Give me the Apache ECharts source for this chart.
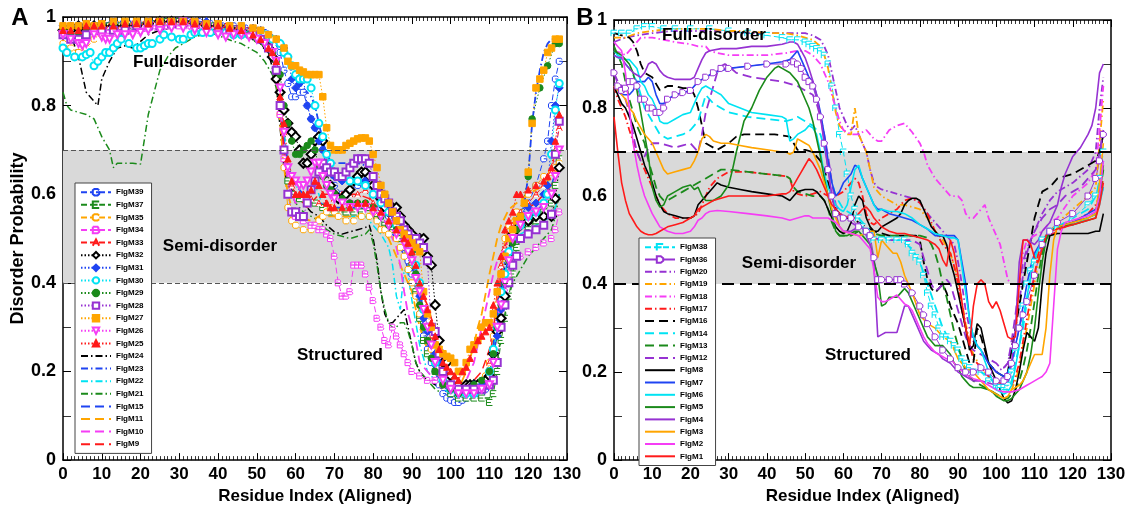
<!DOCTYPE html>
<html>
<head>
<meta charset="utf-8">
<script src="https://cdn.jsdelivr.net/npm/echarts@6/dist/echarts.min.js"></script>
<style>
  html, body { margin: 0; padding: 0; background: #fff; }
  #chart { width: 1131px; height: 510px; }
</style>
</head>
<body>
<div id="chart"></div>
<script>
// ---------- data ----------
const yTickLabels = ['0', '0.2', '0.4', '0.6', '0.8', '1'];
const semiBand = [0.4, 0.7];

// Panel A
const flgM39 = [[0,.97],[2,.96],[4,.97],[6,.98],[8,.98],[10,.985],[12,.98],[14,.98],[16,.985],[18,.98],[20,.98],[23,.985],[26,.99],[29,.99],[32,.99],[35,.99],[38,.985],[41,.98],[44,.98],[47,.975],[50,.97],[52,.965],[54,.95],[56,.92],[57,.88],[58,.85],[59,.82],[60,.82],[61,.83],[62,.83],[63,.8],[64,.77],[65,.75],[66,.73],[67,.7],[68,.66],[70,.62],[72,.6],[74,.61],[76,.62],[78,.63],[80,.6],[82,.57],[84,.55],[86,.52],[88,.48],[89,.45],[90,.42],[91,.4],[92,.33],[93,.28],[94,.25],[95,.22],[96,.2],[97,.17],[98,.15],[99,.14],[100,.135],[101,.13],[102,.13],[103,.135],[104,.14],[105,.145],[106,.15],[107,.15],[108,.15],[109,.16],[110,.18],[111,.22],[112,.3],[113,.36],[114,.42],[115,.46],[116,.5],[118,.55],[120,.58],[122,.62],[124,.68],[125,.72],[126,.8],[127,.86],[128,.9]];
const flgM37 = [[0,.96],[3,.97],[6,.97],[9,.98],[12,.98],[15,.98],[18,.98],[21,.98],[24,.985],[27,.99],[30,.99],[33,.985],[36,.98],[39,.98],[42,.975],[45,.97],[48,.96],[51,.95],[53,.93],[55,.88],[56,.8],[57,.7],[58,.63],[59,.6],[61,.59],[63,.58],[65,.58],[67,.57],[69,.56],[71,.56],[73,.56],[75,.56],[77,.56],[79,.57],[81,.55],[83,.53],[85,.52],[87,.5],[89,.47],[90,.44],[91,.38],[92,.32],[93,.27],[94,.24],[96,.2],[98,.17],[100,.15],[102,.14],[104,.14],[106,.14],[108,.14],[110,.13],[111,.15],[112,.2],[113,.27],[114,.32],[115,.37],[116,.42],[117,.48],[118,.5],[120,.52],[122,.54],[124,.56],[126,.58],[127,.62],[128,.68]];
const flgM35 = [[0,.94],[2,.93],[4,.92],[6,.93],[8,.95],[10,.96],[13,.97],[16,.97],[19,.98],[22,.98],[25,.98],[28,.99],[31,.99],[34,.985],[37,.98],[40,.98],[43,.975],[46,.97],[49,.96],[52,.95],[54,.92],[55,.88],[56,.78],[57,.66],[58,.57],[59,.54],[60,.53],[62,.52],[64,.52],[65,.53],[66,.54],[67,.55],[68,.56],[69,.57],[70,.56],[71,.55],[73,.54],[75,.54],[77,.55],[79,.55],[80,.56],[81,.54],[82,.52],[83,.52],[84,.51],[86,.5],[87,.48],[88,.46],[89,.43],[90,.4],[91,.37],[92,.33],[93,.3],[94,.27],[95,.25],[97,.21],[99,.18],[101,.16],[103,.15],[105,.16],[107,.17],[109,.19],[110,.22],[111,.28],[112,.35],[113,.42],[114,.5],[115,.53],[117,.56],[120,.6],[122,.62],[124,.64],[126,.65],[127,.66],[128,.67]];
const flgM34 = [[0,.96],[3,.95],[6,.96],[9,.97],[12,.97],[15,.97],[18,.97],[21,.975],[24,.98],[27,.98],[30,.98],[33,.98],[36,.975],[39,.97],[42,.97],[45,.965],[48,.96],[51,.95],[53,.93],[55,.88],[56,.78],[57,.68],[58,.6],[59,.56],[60,.55],[62,.54],[64,.53],[65,.53],[66,.52],[67,.52],[68,.51],[69,.5],[70,.46],[71,.4],[72,.37],[73,.37],[74,.38],[75,.44],[76,.44],[77,.44],[78,.42],[79,.39],[80,.36],[81,.32],[82,.3],[83,.27],[84,.26],[85,.3],[86,.28],[87,.26],[88,.24],[89,.22],[90,.2],[92,.19],[94,.18],[96,.18],[98,.17],[100,.16],[102,.15],[104,.15],[106,.16],[108,.16],[110,.17],[111,.22],[112,.3],[113,.34],[114,.38],[115,.42],[116,.44],[118,.46],[120,.47],[122,.48],[124,.49],[126,.5],[127,.52],[128,.56]];
const flgM33 = [[0,.97],[3,.97],[6,.98],[9,.98],[12,.98],[15,.98],[18,.985],[21,.985],[24,.99],[27,.99],[30,.99],[33,.99],[36,.985],[39,.98],[42,.98],[45,.975],[48,.97],[51,.96],[53,.94],[55,.9],[56,.82],[57,.74],[58,.66],[59,.62],[60,.6],[62,.6],[64,.59],[66,.58],[68,.58],[70,.59],[72,.6],[74,.6],[76,.6],[78,.61],[80,.58],[82,.56],[84,.54],[86,.52],[88,.5],[89,.48],[90,.45],[91,.42],[92,.38],[93,.34],[94,.3],[95,.27],[96,.24],[98,.2],[100,.17],[102,.16],[104,.16],[106,.17],[108,.18],[110,.22],[111,.3],[112,.38],[113,.44],[114,.48],[116,.53],[118,.56],[120,.58],[122,.6],[124,.62],[126,.65],[127,.7],[128,.75]];
const flgM32 = [[0,.97],[2,.97],[4,.98],[6,.97],[8,.98],[10,.98],[13,.98],[16,.98],[19,.98],[22,.985],[25,.99],[28,.99],[31,.99],[34,.985],[37,.98],[40,.98],[43,.975],[46,.97],[49,.96],[51,.95],[53,.93],[54,.91],[55,.86],[56,.83],[57,.79],[58,.76],[59,.74],[60,.73],[61,.7],[62,.67],[63,.67],[64,.69],[65,.72],[66,.73],[67,.72],[68,.65],[69,.62],[70,.6],[71,.59],[73,.6],[74,.61],[75,.63],[76,.64],[77,.65],[78,.65],[79,.64],[80,.62],[81,.61],[82,.59],[83,.57],[84,.56],[85,.57],[86,.57],[87,.55],[88,.53],[89,.52],[90,.51],[91,.5],[92,.5],[93,.5],[94,.46],[95,.44],[96,.35],[97,.27],[98,.22],[99,.22],[100,.19],[101,.18],[102,.17],[103,.16],[104,.17],[105,.17],[106,.17],[107,.17],[109,.18],[110,.19],[111,.24],[112,.29],[113,.32],[114,.37],[115,.46],[116,.51],[118,.53],[120,.54],[122,.55],[124,.55],[126,.55],[127,.59],[128,.66]];
const flgM31 = [[0,.98],[2,.98],[4,.98],[6,.985],[8,.98],[10,.985],[13,.99],[16,.985],[19,.985],[22,.99],[25,.99],[28,.99],[31,.99],[34,.99],[37,.99],[40,.985],[43,.98],[46,.98],[49,.975],[51,.97],[53,.96],[55,.95],[56,.94],[57,.93],[58,.91],[59,.86],[60,.84],[61,.85],[62,.86],[63,.8],[64,.77],[65,.75],[66,.72],[67,.7],[68,.67],[69,.65],[70,.64],[72,.63],[74,.63],[76,.63],[78,.63],[80,.6],[82,.58],[84,.56],[86,.53],[88,.51],[89,.5],[90,.47],[91,.42],[92,.37],[93,.32],[94,.29],[95,.26],[96,.24],[97,.22],[98,.2],[100,.17],[102,.16],[104,.16],[106,.17],[108,.17],[110,.2],[111,.24],[112,.28],[113,.34],[114,.4],[115,.47],[116,.5],[118,.55],[120,.57],[122,.58],[124,.6],[125,.62],[126,.72],[127,.8],[128,.84]];
const flgM30 = [[0,.93],[1,.92],[3,.91],[5,.91],[6,.915],[7,.92],[8,.89],[9,.9],[10,.91],[11,.92],[12,.92],[13,.93],[14,.94],[15,.95],[17,.94],[19,.93],[20,.93],[21,.935],[22,.94],[23,.94],[25,.95],[26,.96],[28,.955],[30,.95],[31,.95],[33,.96],[34,.965],[36,.965],[38,.965],[40,.967],[42,.965],[44,.96],[46,.96],[48,.96],[50,.96],[52,.96],[54,.95],[56,.94],[57,.92],[58,.91],[59,.89],[60,.87],[61,.86],[62,.86],[63,.86],[64,.84],[65,.8],[66,.76],[67,.73],[68,.69],[69,.67],[70,.65],[72,.64],[74,.63],[76,.63],[78,.62],[80,.6],[82,.58],[84,.56],[86,.53],[88,.51],[89,.5],[90,.48],[91,.44],[92,.4],[93,.34],[94,.3],[96,.22],[98,.18],[100,.16],[102,.15],[104,.15],[106,.15],[108,.16],[110,.2],[111,.25],[112,.3],[113,.38],[114,.42],[115,.47],[116,.5],[118,.53],[120,.55],[122,.56],[124,.58],[125,.6],[126,.69],[127,.79],[128,.85]];
const flgM29 = [[0,.97],[2,.96],[4,.96],[6,.97],[8,.97],[10,.97],[13,.98],[16,.98],[19,.98],[22,.98],[25,.985],[28,.99],[31,.99],[34,.985],[37,.98],[40,.98],[43,.97],[46,.97],[48,.96],[50,.95],[52,.94],[54,.92],[55,.9],[56,.87],[57,.8],[58,.76],[59,.72],[60,.69],[61,.69],[62,.7],[63,.71],[64,.72],[65,.7],[66,.66],[67,.64],[68,.62],[69,.61],[70,.6],[72,.59],[74,.58],[76,.58],[78,.58],[80,.57],[82,.55],[84,.53],[86,.52],[88,.5],[89,.49],[90,.47],[91,.42],[92,.35],[93,.3],[94,.27],[95,.23],[96,.2],[98,.17],[100,.16],[102,.15],[104,.16],[106,.17],[108,.18],[110,.2],[111,.24],[112,.3],[113,.35],[114,.4],[115,.45],[116,.49],[117,.52],[118,.55],[120,.64],[121,.77],[123,.84],[125,.89],[127,.94],[128,.94]];
const flgM28 = [[0,.96],[2,.95],[4,.95],[6,.96],[8,.97],[10,.97],[13,.97],[16,.97],[19,.98],[22,.98],[25,.98],[28,.985],[31,.99],[34,.985],[37,.98],[40,.975],[43,.97],[46,.97],[49,.96],[51,.95],[53,.93],[55,.88],[56,.8],[57,.7],[58,.6],[59,.56],[60,.56],[61,.55],[62,.55],[63,.58],[64,.61],[65,.63],[66,.65],[67,.67],[68,.66],[69,.65],[70,.65],[71,.64],[72,.64],[73,.65],[74,.66],[75,.67],[76,.68],[77,.68],[78,.68],[79,.67],[80,.64],[81,.62],[82,.6],[83,.59],[84,.58],[85,.56],[86,.55],[87,.54],[88,.52],[89,.51],[90,.5],[91,.5],[92,.49],[93,.48],[94,.45],[95,.3],[96,.29],[97,.24],[98,.2],[100,.17],[102,.16],[104,.16],[106,.16],[108,.16],[110,.17],[111,.18],[112,.22],[113,.3],[114,.35],[115,.4],[116,.44],[117,.46],[118,.5],[120,.51],[122,.52],[124,.53],[126,.555],[127,.69],[128,.765]];
const flgM27 = [[0,.98],[2,.98],[4,.98],[6,.985],[8,.98],[10,.985],[13,.99],[16,.99],[19,.99],[22,.99],[25,.99],[28,.99],[31,.99],[34,.99],[37,.985],[40,.985],[43,.98],[46,.98],[49,.975],[51,.97],[53,.96],[55,.95],[57,.93],[58,.9],[59,.89],[60,.89],[61,.88],[62,.876],[63,.87],[64,.87],[65,.87],[66,.87],[67,.82],[68,.75],[69,.71],[70,.7],[71,.7],[72,.7],[73,.71],[74,.715],[75,.72],[76,.725],[77,.727],[78,.727],[79,.72],[80,.69],[81,.66],[82,.62],[83,.6],[84,.58],[85,.56],[86,.54],[87,.52],[88,.51],[89,.5],[90,.49],[91,.48],[92,.47],[93,.38],[94,.33],[95,.3],[96,.26],[97,.25],[98,.24],[99,.234],[100,.23],[101,.22],[102,.2],[103,.2],[104,.22],[105,.25],[106,.26],[107,.27],[108,.3],[109,.31],[110,.31],[111,.33],[112,.38],[113,.42],[114,.46],[115,.5],[116,.52],[117,.54],[118,.55],[119,.58],[120,.65],[121,.76],[122,.84],[123,.86],[124,.88],[125,.92],[126,.93],[127,.95],[128,.95]];
const flgM26 = [[0,.96],[2,.95],[4,.94],[5,.935],[6,.94],[8,.96],[10,.955],[11,.95],[12,.95],[14,.96],[16,.96],[18,.96],[20,.965],[22,.97],[25,.97],[28,.975],[31,.975],[34,.97],[37,.965],[40,.96],[42,.955],[44,.96],[46,.96],[48,.955],[50,.95],[52,.94],[54,.92],[55,.9],[56,.84],[57,.74],[58,.66],[59,.64],[60,.63],[61,.62],[62,.62],[63,.63],[64,.65],[65,.67],[66,.67],[67,.64],[68,.62],[69,.6],[70,.59],[72,.58],[74,.57],[76,.57],[78,.57],[80,.56],[82,.55],[84,.53],[86,.51],[88,.49],[89,.47],[90,.45],[91,.41],[92,.38],[93,.34],[94,.3],[95,.26],[96,.22],[98,.18],[100,.16],[102,.15],[104,.15],[106,.15],[108,.16],[110,.17],[111,.22],[112,.3],[113,.35],[114,.4],[115,.45],[116,.5],[118,.53],[120,.55],[122,.56],[124,.57],[126,.6],[127,.64],[128,.7]];
const flgM25 = [[0,.97],[2,.97],[4,.97],[6,.98],[8,.98],[10,.98],[13,.98],[16,.985],[19,.985],[22,.985],[25,.99],[28,.99],[31,.99],[34,.985],[37,.98],[40,.98],[43,.975],[46,.97],[49,.96],[51,.95],[53,.93],[54,.92],[55,.9],[56,.82],[57,.76],[58,.68],[59,.63],[60,.6],[61,.6],[62,.6],[63,.6],[64,.61],[65,.63],[66,.62],[67,.6],[68,.58],[69,.57],[70,.57],[72,.57],[74,.57],[76,.58],[78,.58],[80,.57],[82,.56],[84,.54],[86,.52],[88,.5],[89,.49],[90,.47],[91,.44],[92,.4],[93,.37],[94,.34],[95,.31],[96,.28],[97,.25],[98,.22],[99,.21],[100,.2],[101,.19],[102,.18],[103,.2],[104,.21],[105,.23],[106,.25],[107,.27],[108,.28],[109,.29],[110,.3],[111,.35],[112,.4],[113,.46],[114,.52],[115,.54],[116,.56],[117,.6],[118,.6],[120,.61],[122,.62],[124,.63],[125,.64],[126,.66],[127,.72],[128,.78]];
const flgM24 = [[0,.97],[2,.96],[4,.91],[6,.83],[8,.81],[9,.8],[10,.86],[12,.9],[14,.93],[16,.935],[18,.93],[20,.945],[22,.96],[25,.97],[30,.98],[35,.975],[40,.97],[45,.965],[50,.95],[53,.92],[55,.85],[56,.75],[57,.66],[58,.62],[60,.6],[62,.58],[64,.56],[66,.55],[68,.53],[70,.515],[72,.51],[74,.515],[76,.52],[78,.525],[79,.53],[80,.5],[81,.45],[82,.38],[83,.33],[84,.31],[85,.31],[86,.32],[87,.33],[88,.34],[89,.3],[90,.26],[91,.22],[92,.2],[94,.18],[96,.17],[98,.16],[100,.15],[102,.14],[104,.14],[106,.15],[108,.16],[110,.18],[111,.22],[112,.3],[113,.38],[114,.44],[115,.48],[116,.5],[118,.52],[120,.53],[122,.54],[124,.545],[126,.55],[127,.57],[128,.6]];
const flgM23 = [[0,.97],[3,.98],[6,.98],[10,.985],[15,.99],[20,.99],[25,.99],[30,.99],[35,.99],[40,.985],[45,.98],[50,.975],[53,.965],[55,.95],[57,.93],[58,.91],[59,.88],[60,.86],[62,.84],[64,.82],[65,.8],[66,.76],[67,.72],[68,.69],[69,.675],[70,.67],[72,.67],[74,.67],[76,.67],[78,.665],[80,.63],[82,.59],[84,.56],[86,.53],[88,.51],[90,.47],[91,.43],[92,.38],[94,.28],[96,.21],[98,.17],[100,.16],[102,.15],[104,.15],[106,.16],[108,.17],[110,.2],[111,.26],[112,.33],[113,.4],[114,.45],[116,.5],[118,.54],[119,.58],[120,.64],[121,.76],[122,.83],[123,.88],[124,.92],[125,.94],[126,.95],[128,.95]];
const flgM22 = [[0,.96],[3,.97],[6,.97],[10,.975],[15,.98],[20,.98],[25,.985],[30,.99],[35,.985],[40,.98],[45,.975],[50,.96],[53,.94],[55,.9],[56,.82],[57,.74],[58,.68],[59,.64],[60,.62],[62,.6],[64,.61],[65,.62],[66,.6],[67,.57],[68,.56],[70,.555],[72,.55],[75,.55],[78,.55],[80,.53],[82,.51],[84,.48],[85,.44],[86,.37],[87,.34],[88,.43],[89,.42],[90,.36],[91,.31],[92,.26],[94,.2],[96,.18],[98,.16],[100,.15],[102,.15],[104,.15],[106,.15],[108,.16],[110,.18],[111,.23],[112,.3],[113,.37],[114,.42],[115,.46],[116,.5],[118,.51],[120,.52],[122,.53],[124,.54],[126,.55],[127,.57],[128,.6]];
const flgM21 = [[0,.83],[1,.8],[2,.79],[4,.785],[6,.78],[8,.77],[10,.73],[12,.7],[13,.66],[14,.67],[16,.67],[18,.67],[20,.668],[22,.78],[25,.88],[27,.91],[29,.93],[31,.94],[34,.955],[38,.965],[41,.955],[44,.945],[46,.94],[48,.93],[50,.92],[52,.9],[54,.87],[55,.84],[56,.77],[57,.7],[58,.63],[59,.6],[60,.58],[62,.56],[64,.55],[66,.54],[68,.52],[70,.51],[72,.505],[74,.5],[76,.505],[78,.51],[79,.52],[80,.49],[81,.44],[82,.38],[83,.34],[84,.31],[85,.3],[86,.3],[87,.31],[88,.31],[89,.29],[90,.26],[91,.22],[92,.2],[94,.18],[96,.16],[98,.15],[100,.14],[102,.14],[104,.14],[106,.14],[108,.14],[110,.14],[111,.17],[112,.22],[113,.28],[114,.33],[115,.37],[116,.4],[118,.43],[120,.46],[122,.48],[124,.5],[126,.52],[127,.55],[128,.6]];
const flgM15 = [[0,.97],[4,.97],[8,.98],[12,.98],[16,.98],[20,.985],[25,.99],[30,.99],[35,.99],[40,.985],[45,.98],[50,.97],[53,.95],[55,.9],[56,.8],[57,.72],[58,.67],[59,.64],[60,.62],[62,.6],[64,.58],[66,.58],[68,.575],[70,.57],[73,.57],[76,.57],[79,.565],[80,.56],[82,.54],[84,.52],[86,.5],[88,.46],[89,.43],[90,.42],[91,.44],[92,.36],[93,.3],[94,.26],[96,.2],[98,.17],[100,.15],[102,.15],[104,.15],[106,.15],[108,.16],[110,.17],[111,.22],[112,.3],[113,.36],[114,.42],[115,.46],[116,.5],[118,.53],[120,.55],[122,.56],[124,.58],[126,.62],[127,.65],[128,.68]];
const flgM11 = [[0,.97],[4,.97],[8,.975],[12,.98],[16,.98],[20,.98],[25,.985],[30,.99],[35,.985],[40,.98],[45,.975],[50,.965],[53,.94],[55,.88],[56,.76],[57,.66],[58,.6],[59,.57],[60,.56],[62,.545],[64,.54],[66,.55],[68,.55],[70,.55],[73,.55],[76,.55],[79,.55],[80,.55],[82,.52],[84,.5],[86,.46],[87,.44],[88,.42],[89,.4],[90,.38],[91,.34],[92,.3],[94,.25],[96,.2],[98,.18],[100,.16],[102,.16],[103,.18],[104,.2],[105,.23],[106,.26],[107,.3],[108,.33],[109,.375],[110,.42],[111,.46],[112,.5],[113,.53],[115,.566],[117,.58],[120,.6],[122,.61],[124,.62],[126,.64],[128,.66]];
const flgM10 = [[0,.96],[4,.96],[8,.97],[12,.97],[16,.975],[20,.98],[25,.98],[30,.985],[35,.98],[40,.975],[45,.97],[50,.96],[53,.93],[55,.88],[56,.8],[57,.7],[58,.63],[59,.6],[60,.58],[62,.59],[64,.61],[66,.62],[68,.61],[70,.6],[73,.59],[76,.58],[79,.57],[80,.56],[82,.54],[84,.52],[86,.48],[87,.44],[88,.38],[89,.33],[90,.3],[91,.27],[92,.22],[94,.2],[96,.18],[98,.17],[100,.16],[102,.16],[104,.18],[105,.2],[106,.22],[107,.26],[108,.3],[109,.34],[110,.38],[111,.42],[112,.45],[114,.48],[115,.5],[117,.53],[118,.55],[120,.56],[122,.57],[124,.58],[126,.6],[128,.62]];
const flgM9 = [[0,.97],[4,.97],[8,.98],[12,.98],[16,.98],[20,.985],[25,.99],[30,.99],[35,.99],[40,.985],[45,.98],[50,.97],[53,.95],[55,.9],[56,.8],[57,.7],[58,.65],[59,.62],[60,.6],[62,.58],[63,.57],[64,.58],[66,.6],[68,.6],[70,.6],[73,.6],[76,.6],[79,.59],[80,.58],[82,.565],[84,.55],[86,.53],[88,.5],[89,.49],[90,.48],[91,.44],[92,.4],[93,.37],[94,.35],[95,.32],[96,.3],[97,.26],[98,.22],[100,.18],[102,.17],[104,.17],[106,.18],[108,.2],[110,.25],[111,.3],[112,.35],[113,.42],[114,.48],[115,.51],[116,.53],[118,.55],[120,.57],[122,.58],[124,.6],[126,.62],[128,.66]];

// Panel B
const flgM38 = [[0,.97],[2,.97],[4,.97],[6,.98],[8,.985],[10,.985],[13,.98],[16,.98],[20,.98],[25,.98],[30,.975],[35,.97],[40,.965],[44,.96],[46,.955],[48,.955],[50,.95],[51,.945],[52,.94],[53,.935],[54,.93],[55,.92],[56,.9],[57,.85],[58,.8],[59,.74],[60,.7],[61,.65],[62,.6],[63,.57],[64,.55],[65,.53],[66,.52],[67,.51],[68,.5],[70,.5],[72,.5],[74,.5],[76,.5],[77,.49],[78,.47],[79,.46],[80,.45],[81,.42],[82,.38],[83,.35],[84,.33],[85,.3],[86,.28],[87,.28],[88,.27],[89,.26],[90,.25],[91,.23],[92,.22],[93,.21],[94,.2],[96,.2],[98,.18],[100,.17],[101,.165],[102,.165],[103,.17],[104,.2],[105,.25],[106,.3],[107,.35],[108,.4],[109,.43],[110,.45],[112,.5],[114,.52],[116,.53],[120,.55],[124,.58],[126,.6],[127,.64],[128,.7]];
const flgM36 = [[0,.88],[1,.85],[2,.84],[3,.845],[4,.86],[5,.86],[6,.85],[7,.82],[8,.82],[9,.8],[10,.8],[11,.79],[12,.79],[13,.8],[14,.82],[16,.83],[18,.835],[20,.84],[22,.86],[24,.87],[26,.88],[28,.89],[30,.89],[35,.895],[40,.9],[45,.9],[47,.905],[48,.9],[49,.89],[50,.87],[51,.86],[52,.85],[53,.82],[54,.78],[55,.72],[56,.66],[57,.6],[58,.56],[60,.55],[62,.55],[64,.53],[66,.52],[67,.51],[68,.46],[69,.41],[70,.41],[72,.41],[74,.41],[75,.41],[76,.4],[78,.38],[80,.35],[81,.33],[82,.31],[84,.28],[86,.25],[88,.23],[90,.21],[92,.2],[94,.2],[96,.21],[98,.2],[100,.18],[102,.18],[103,.19],[104,.22],[105,.26],[106,.3],[107,.33],[108,.36],[110,.42],[112,.49],[114,.52],[116,.54],[120,.56],[124,.6],[126,.64],[127,.68],[128,.74]];
const flgM20 = [[0,.95],[3,.96],[6,.965],[10,.97],[15,.975],[20,.975],[25,.975],[30,.975],[35,.97],[40,.97],[45,.97],[48,.97],[50,.97],[52,.965],[54,.955],[55,.94],[56,.92],[57,.88],[58,.84],[59,.8],[60,.78],[61,.76],[62,.75],[63,.76],[64,.74],[66,.7],[67,.66],[68,.63],[69,.62],[70,.615],[72,.61],[74,.605],[76,.6],[78,.595],[80,.585],[82,.56],[84,.54],[86,.52],[88,.5],[89,.49],[90,.45],[91,.4],[92,.34],[93,.3],[94,.27],[96,.25],[98,.22],[100,.2],[102,.21],[103,.22],[104,.26],[105,.3],[106,.36],[107,.42],[108,.47],[109,.5],[110,.52],[112,.56],[114,.59],[116,.61],[120,.63],[124,.66],[126,.7],[127,.8],[128,.87]];
const flgM19 = [[0,.96],[3,.96],[6,.97],[10,.975],[15,.98],[20,.98],[25,.98],[30,.975],[35,.975],[40,.97],[45,.97],[48,.965],[50,.96],[52,.955],[54,.94],[55,.92],[56,.89],[57,.84],[58,.79],[59,.76],[60,.75],[61,.74],[62,.74],[63,.8],[64,.74],[65,.72],[66,.7],[67,.66],[68,.62],[70,.6],[72,.59],[74,.58],[76,.58],[78,.575],[80,.57],[82,.55],[84,.52],[86,.5],[88,.47],[89,.44],[90,.41],[91,.36],[92,.31],[93,.27],[94,.24],[96,.21],[98,.19],[100,.17],[102,.16],[104,.16],[105,.18],[106,.21],[107,.26],[108,.3],[109,.35],[110,.4],[111,.45],[112,.5],[114,.52],[116,.54],[120,.57],[124,.6],[126,.62],[127,.72],[128,.82]];
const flgM18 = [[0,.93],[2,.925],[3,.92],[5,.94],[7,.96],[10,.96],[13,.955],[16,.95],[20,.945],[22,.94],[24,.94],[25,.93],[27,.925],[30,.92],[35,.92],[40,.92],[45,.925],[48,.93],[50,.93],[52,.92],[54,.9],[55,.88],[56,.86],[57,.83],[58,.8],[59,.77],[60,.75],[62,.74],[64,.74],[66,.75],[67,.74],[68,.73],[69,.725],[70,.725],[72,.75],[74,.76],[76,.765],[78,.745],[80,.72],[81,.7],[82,.67],[84,.64],[86,.62],[88,.6],[90,.6],[91,.59],[92,.56],[93,.55],[94,.55],[95,.56],[96,.57],[97,.58],[98,.55],[99,.53],[100,.51],[101,.49],[102,.45],[103,.41],[104,.4],[105,.4],[106,.4],[107,.47],[108,.5],[109,.505],[110,.51],[112,.52],[114,.54],[116,.55],[120,.6],[124,.63],[126,.66],[127,.75],[128,.85]];
const flgM17 = [[0,.85],[1,.82],[2,.8],[3,.78],[4,.75],[6,.7],[8,.66],[10,.62],[12,.58],[14,.56],[16,.55],[18,.55],[20,.55],[22,.56],[23,.58],[24,.6],[25,.62],[27,.64],[30,.655],[35,.655],[40,.65],[45,.645],[46,.64],[47,.61],[48,.605],[50,.6],[52,.605],[54,.61],[56,.6],[58,.6],[60,.61],[62,.63],[63,.64],[64,.63],[65,.6],[66,.56],[67,.54],[68,.535],[70,.55],[72,.56],[74,.57],[76,.59],[78,.595],[80,.585],[82,.56],[84,.52],[86,.49],[88,.47],[89,.44],[90,.4],[91,.34],[92,.3],[93,.26],[94,.23],[96,.21],[98,.19],[100,.18],[102,.17],[104,.17],[105,.19],[106,.22],[107,.27],[108,.32],[109,.37],[110,.42],[111,.47],[112,.5],[114,.51],[116,.52],[120,.54],[124,.56],[126,.58],[127,.6],[128,.64]];
const flgM16 = [[0,.97],[2,.965],[4,.96],[5,.95],[6,.93],[7,.9],[8,.88],[10,.87],[12,.84],[14,.85],[16,.85],[18,.845],[20,.845],[21,.83],[22,.8],[23,.76],[24,.72],[25,.715],[26,.71],[27,.705],[28,.71],[30,.72],[32,.735],[34,.74],[38,.74],[42,.74],[46,.735],[47,.72],[48,.705],[50,.705],[52,.7],[54,.68],[55,.66],[56,.63],[57,.6],[58,.57],[60,.55],[62,.55],[64,.54],[66,.53],[68,.52],[70,.515],[72,.51],[75,.51],[78,.51],[79,.51],[80,.5],[81,.45],[82,.41],[83,.39],[84,.38],[85,.39],[86,.4],[87,.38],[88,.35],[89,.33],[90,.31],[91,.28],[92,.25],[93,.22],[94,.22],[95,.3],[96,.28],[97,.25],[98,.22],[100,.2],[102,.19],[103,.2],[104,.25],[105,.3],[106,.35],[107,.4],[108,.45],[109,.5],[110,.55],[111,.58],[112,.61],[114,.62],[116,.64],[120,.65],[124,.67],[126,.68],[127,.7],[128,.74]];
const flgM14 = [[0,.92],[2,.91],[4,.89],[6,.86],[8,.8],[10,.77],[12,.74],[14,.73],[16,.735],[18,.74],[20,.75],[22,.77],[23,.8],[24,.83],[25,.82],[26,.81],[28,.8],[30,.79],[35,.78],[40,.775],[45,.77],[47,.775],[48,.78],[50,.77],[52,.76],[54,.74],[55,.71],[56,.67],[57,.63],[58,.6],[60,.57],[62,.56],[64,.55],[66,.53],[68,.51],[70,.51],[72,.5],[75,.5],[78,.48],[80,.45],[82,.4],[84,.35],[86,.3],[88,.27],[90,.24],[92,.21],[94,.2],[96,.2],[98,.19],[100,.17],[102,.16],[103,.16],[104,.18],[105,.22],[106,.26],[107,.3],[108,.36],[109,.42],[110,.46],[112,.5],[114,.52],[116,.53],[120,.55],[124,.57],[126,.6],[127,.63],[128,.68]];
const flgM13 = [[0,.94],[1,.92],[2,.9],[3,.86],[4,.82],[5,.79],[6,.76],[7,.74],[8,.72],[9,.68],[10,.65],[11,.62],[12,.6],[13,.59],[14,.59],[16,.6],[18,.61],[20,.62],[22,.63],[24,.64],[26,.65],[28,.66],[30,.66],[35,.655],[40,.65],[45,.645],[46,.64],[47,.62],[48,.61],[50,.605],[52,.6],[54,.6],[55,.59],[56,.57],[57,.54],[58,.52],[59,.51],[60,.51],[62,.51],[64,.52],[66,.52],[68,.515],[70,.51],[72,.51],[75,.51],[78,.51],[80,.51],[82,.505],[83,.49],[84,.47],[85,.44],[86,.4],[87,.37],[88,.33],[89,.29],[90,.26],[91,.23],[92,.2],[94,.18],[96,.17],[98,.16],[100,.15],[102,.14],[103,.14],[104,.15],[105,.16],[106,.18],[107,.21],[108,.25],[109,.3],[110,.36],[111,.42],[112,.47],[113,.5],[114,.52],[116,.53],[120,.54],[124,.55],[126,.56],[127,.6],[128,.66]];
const flgM12 = [[0,.88],[1,.86],[2,.85],[3,.82],[4,.79],[5,.74],[6,.7],[7,.68],[8,.69],[9,.71],[10,.72],[12,.72],[14,.715],[16,.71],[18,.715],[20,.72],[21,.71],[22,.7],[23,.74],[24,.79],[25,.82],[26,.85],[27,.88],[28,.895],[29,.9],[30,.895],[32,.88],[34,.875],[36,.87],[40,.865],[44,.86],[46,.855],[48,.85],[50,.84],[52,.83],[53,.81],[54,.78],[55,.74],[56,.69],[57,.63],[58,.58],[60,.55],[62,.54],[64,.53],[66,.52],[68,.505],[70,.5],[72,.5],[75,.5],[78,.5],[80,.49],[81,.46],[82,.43],[83,.4],[84,.385],[85,.39],[86,.4],[87,.41],[88,.4],[89,.37],[90,.34],[91,.31],[92,.28],[93,.26],[94,.25],[96,.24],[98,.23],[100,.22],[101,.21],[102,.21],[103,.22],[104,.27],[105,.33],[106,.4],[107,.45],[108,.48],[109,.5],[110,.52],[112,.55],[114,.57],[116,.58],[118,.6],[120,.61],[122,.62],[124,.64],[126,.66],[127,.7],[128,.75]];
const flgM8 = [[0,.85],[1,.83],[2,.81],[3,.8],[4,.78],[5,.76],[6,.73],[7,.7],[8,.67],[9,.65],[10,.63],[11,.6],[12,.58],[13,.565],[14,.56],[16,.555],[18,.55],[20,.55],[21,.555],[22,.58],[23,.59],[24,.6],[26,.62],[27,.63],[28,.625],[30,.62],[33,.615],[36,.61],[40,.605],[44,.6],[45,.595],[46,.59],[47,.6],[48,.61],[50,.615],[52,.615],[53,.61],[54,.6],[55,.59],[56,.57],[57,.55],[58,.53],[59,.52],[60,.515],[61,.52],[62,.54],[63,.58],[64,.6],[65,.59],[66,.55],[67,.53],[68,.52],[69,.52],[70,.53],[72,.54],[74,.55],[75,.56],[76,.58],[77,.59],[78,.595],[79,.595],[80,.59],[81,.57],[82,.55],[83,.53],[84,.52],[85,.51],[86,.51],[87,.49],[88,.45],[89,.42],[90,.38],[91,.34],[92,.3],[93,.25],[94,.26],[95,.31],[96,.3],[97,.26],[98,.22],[99,.2],[100,.18],[101,.16],[102,.14],[103,.13],[104,.135],[105,.16],[106,.2],[107,.25],[108,.29],[109,.28],[110,.27],[111,.3],[112,.4],[113,.47],[114,.51],[116,.515],[120,.515],[124,.515],[126,.52],[127,.52],[128,.56]];
const flgM7 = [[0,.85],[1,.84],[2,.83],[3,.83],[4,.83],[5,.84],[6,.86],[7,.86],[8,.86],[9,.87],[10,.86],[11,.83],[12,.81],[13,.81],[14,.82],[16,.83],[18,.835],[20,.84],[21,.85],[22,.86],[24,.87],[26,.88],[28,.885],[30,.89],[35,.895],[40,.9],[44,.905],[46,.91],[47,.92],[48,.93],[49,.91],[50,.89],[51,.87],[52,.86],[53,.83],[54,.79],[55,.74],[56,.68],[57,.63],[58,.6],[59,.61],[60,.63],[61,.64],[62,.65],[63,.67],[64,.665],[65,.64],[66,.62],[67,.6],[68,.58],[69,.57],[70,.57],[71,.565],[72,.56],[74,.555],[76,.55],[78,.545],[80,.535],[82,.525],[84,.51],[86,.51],[88,.51],[89,.51],[90,.5],[91,.45],[92,.4],[93,.32],[94,.28],[95,.26],[96,.25],[98,.22],[100,.2],[101,.195],[102,.19],[103,.2],[104,.22],[105,.26],[106,.3],[107,.35],[108,.4],[109,.44],[110,.47],[112,.5],[114,.52],[116,.53],[120,.54],[124,.56],[126,.57],[127,.59],[128,.62]];
const flgM6 = [[0,.93],[1,.92],[2,.915],[3,.91],[4,.91],[5,.9],[6,.89],[7,.86],[8,.85],[9,.83],[10,.82],[11,.8],[12,.77],[13,.765],[14,.765],[16,.775],[18,.785],[20,.79],[21,.81],[22,.83],[23,.845],[24,.85],[25,.845],[26,.84],[28,.83],[30,.81],[33,.8],[36,.79],[40,.785],[44,.78],[45,.775],[46,.725],[47,.73],[48,.74],[50,.75],[51,.76],[52,.755],[53,.74],[54,.7],[55,.65],[56,.62],[57,.6],[58,.58],[59,.57],[60,.565],[61,.58],[62,.62],[63,.66],[64,.67],[65,.64],[66,.62],[67,.6],[68,.58],[69,.565],[70,.57],[72,.565],[74,.565],[76,.56],[78,.55],[80,.535],[82,.525],[84,.515],[86,.51],[88,.505],[89,.505],[90,.5],[91,.44],[92,.38],[93,.32],[94,.28],[95,.26],[96,.25],[98,.2],[100,.16],[101,.155],[102,.15],[103,.155],[104,.17],[105,.21],[106,.26],[107,.32],[108,.37],[109,.42],[110,.46],[112,.5],[114,.52],[116,.53],[120,.535],[124,.55],[126,.56],[127,.58],[128,.62]];
const flgM5 = [[0,.93],[1,.925],[2,.92],[3,.91],[4,.9],[5,.88],[6,.84],[7,.79],[8,.74],[9,.69],[10,.62],[11,.59],[12,.575],[13,.58],[14,.6],[16,.61],[18,.62],[20,.625],[21,.615],[22,.62],[23,.6],[24,.59],[26,.59],[28,.6],[30,.625],[31,.66],[32,.7],[34,.77],[36,.8],[38,.84],[40,.87],[42,.89],[43,.895],[44,.89],[46,.88],[48,.86],[49,.84],[50,.82],[51,.8],[52,.77],[53,.73],[54,.69],[55,.64],[56,.6],[57,.56],[58,.52],[59,.51],[60,.51],[61,.51],[62,.515],[63,.52],[64,.52],[65,.51],[66,.5],[67,.49],[68,.45],[69,.42],[70,.35],[71,.355],[72,.37],[73,.37],[74,.37],[75,.38],[76,.39],[77,.38],[78,.36],[79,.34],[80,.32],[81,.3],[82,.28],[83,.27],[84,.26],[86,.26],[87,.25],[88,.24],[89,.22],[90,.21],[91,.19],[92,.18],[93,.17],[94,.165],[96,.165],[98,.16],[99,.155],[100,.145],[101,.14],[102,.135],[103,.135],[104,.14],[105,.15],[106,.16],[107,.18],[108,.2],[109,.24],[110,.3],[111,.38],[112,.45],[113,.5],[114,.52],[116,.53],[120,.535],[124,.545],[126,.55],[127,.6],[128,.67]];
const flgM4 = [[0,.92],[1,.915],[2,.914],[3,.9],[4,.89],[5,.88],[6,.875],[7,.87],[8,.88],[9,.9],[10,.905],[11,.9],[12,.885],[13,.875],[14,.87],[16,.865],[18,.865],[20,.865],[21,.87],[22,.89],[23,.91],[24,.925],[25,.93],[28,.935],[32,.935],[36,.94],[40,.94],[44,.945],[46,.95],[47,.95],[48,.945],[49,.93],[50,.914],[51,.89],[52,.862],[53,.83],[54,.78],[55,.72],[56,.66],[57,.6],[58,.56],[59,.53],[60,.52],[61,.52],[62,.52],[63,.525],[64,.54],[65,.53],[66,.51],[67,.49],[68,.44],[69,.28],[70,.285],[71,.29],[72,.29],[73,.29],[74,.29],[75,.32],[76,.35],[77,.35],[78,.33],[79,.31],[80,.29],[81,.27],[82,.26],[83,.25],[84,.245],[85,.24],[86,.23],[88,.22],[90,.2],[92,.19],[94,.18],[96,.18],[98,.175],[100,.17],[102,.17],[103,.175],[104,.22],[105,.3],[106,.45],[107,.5],[108,.5],[109,.495],[110,.49],[111,.5],[112,.52],[114,.54],[116,.58],[117,.62],[118,.65],[119,.67],[120,.69],[122,.71],[124,.74],[125,.76],[126,.8],[127,.88],[128,.9]];
const flgM3 = [[0,.85],[1,.84],[2,.83],[3,.82],[4,.8],[5,.79],[6,.77],[7,.755],[8,.74],[9,.73],[10,.72],[11,.7],[12,.68],[13,.66],[14,.65],[16,.655],[18,.66],[20,.665],[21,.68],[22,.7],[23,.73],[24,.74],[25,.735],[26,.725],[28,.72],[30,.72],[33,.715],[36,.71],[40,.705],[44,.7],[45,.7],[46,.695],[47,.7],[48,.73],[49,.725],[50,.72],[51,.715],[52,.7],[53,.68],[54,.66],[55,.63],[56,.6],[57,.57],[58,.55],[59,.53],[60,.52],[62,.515],[64,.51],[66,.515],[67,.52],[68,.52],[69,.46],[70,.5],[71,.49],[72,.48],[73,.47],[74,.47],[75,.45],[76,.42],[77,.4],[78,.38],[79,.355],[80,.33],[82,.31],[84,.3],[86,.28],[88,.27],[89,.25],[90,.23],[92,.21],[94,.2],[96,.18],[98,.16],[100,.15],[101,.145],[102,.14],[103,.145],[104,.16],[105,.165],[106,.17],[107,.18],[108,.2],[109,.22],[110,.24],[111,.24],[112,.24],[113,.3],[114,.42],[115,.5],[116,.53],[120,.54],[124,.55],[126,.56],[127,.63],[128,.72]];
const flgM2 = [[0,.95],[1,.94],[2,.93],[3,.88],[4,.8],[5,.72],[6,.67],[7,.63],[8,.6],[9,.58],[10,.56],[11,.545],[12,.53],[13,.525],[14,.52],[16,.515],[18,.515],[20,.52],[21,.53],[22,.545],[23,.55],[24,.56],[25,.565],[27,.567],[30,.565],[35,.56],[40,.555],[44,.55],[46,.545],[48,.55],[50,.555],[51,.555],[52,.55],[54,.55],[56,.55],[57,.545],[58,.54],[59,.53],[60,.52],[62,.515],[64,.51],[65,.5],[66,.49],[67,.48],[68,.43],[69,.37],[70,.36],[71,.36],[72,.365],[73,.37],[74,.375],[75,.365],[76,.355],[77,.35],[78,.34],[79,.32],[80,.3],[81,.28],[82,.265],[83,.255],[84,.245],[85,.24],[86,.235],[87,.23],[88,.23],[89,.22],[90,.21],[92,.195],[94,.185],[96,.18],[98,.17],[100,.16],[102,.155],[104,.155],[106,.16],[107,.165],[108,.17],[109,.175],[110,.18],[111,.185],[112,.19],[113,.2],[114,.22],[115,.35],[116,.48],[117,.52],[118,.54],[120,.545],[124,.555],[126,.565],[127,.6],[128,.68]];
const flgM1 = [[0,.78],[1,.7],[2,.63],[3,.59],[4,.56],[5,.545],[6,.53],[7,.52],[8,.515],[9,.512],[10,.512],[11,.515],[12,.52],[14,.53],[16,.535],[18,.54],[20,.55],[21,.555],[22,.57],[23,.575],[24,.58],[26,.59],[28,.595],[30,.6],[32,.6],[35,.6],[40,.6],[44,.605],[45,.605],[46,.61],[47,.625],[48,.64],[49,.655],[50,.67],[51,.685],[52,.675],[53,.66],[54,.64],[55,.62],[56,.6],[57,.58],[58,.57],[59,.56],[60,.555],[62,.55],[63,.55],[64,.56],[65,.57],[66,.575],[67,.565],[68,.55],[69,.54],[70,.53],[72,.52],[74,.515],[76,.515],[78,.51],[80,.505],[82,.5],[83,.495],[84,.49],[85,.48],[86,.455],[87,.44],[88,.5],[89,.47],[90,.42],[91,.36],[92,.3],[93,.26],[94,.35],[95,.4],[96,.41],[97,.4],[98,.36],[99,.345],[100,.36],[101,.34],[102,.31],[103,.28],[104,.275],[105,.28],[106,.4],[107,.5],[108,.5],[109,.49],[110,.46],[111,.45],[112,.48],[113,.51],[114,.52],[116,.525],[120,.535],[124,.545],[126,.55],[127,.58],[128,.63]];

// ---------- styles ----------
const FONT = '"Liberation Sans", Arial, sans-serif';
const C = {
  blue: '#1f44f2', green: '#1b8a1b', orange: '#ffa500', magenta: '#f53df5',
  red: '#ff1a1a', black: '#000000', cyan: '#00e3f3', purple: '#9632d2'
};
const DOT = [1.5, 2], DASH = [6, 3], DASHDOT = [7, 3, 1.5, 3], LDASH = [9, 5];
const GLYPH = {
  G: 'path://M9,2L7,0H3L1,2V8L3,10H7L9,8V5H5',
  E: 'path://M9,0H1V10H9M1,5H7',
  C: 'path://M9,2L7,0H3L1,2V8L3,10H7L9,8',
  B: 'path://M1,0V10H7L9,8V7L7,5H1M1,0H7L8,1.5V3.5L7,5',
  A: 'path://M1,10L5,0L9,10M2.6,6H7.4',
  F: 'path://M9,0H1V10M1,5H7',
  D: 'path://M1,0V10H6L9,7V3L6,0Z'
};

function line(name, data, color, panel, o) {
  o = o || {};
  const s = {
    name, type: 'line', data,
    xAxisIndex: panel * 2, yAxisIndex: panel * 2,
    symbol: o.symbol || 'none', symbolSize: o.size || 6, showSymbol: !!o.symbol,
    lineStyle: { color, width: o.width || 1.2, type: o.dash || 'solid' },
    itemStyle: { color: o.fill || color, borderColor: color, borderWidth: o.bw || 1 },
    z: 2, silent: true, animation: false
  };
  if (o.rotate) s.symbolRotate = o.rotate;
  return s;
}
const letter = (ch) => ({ symbol: GLYPH[ch], fill: '#fff', size: 6, dash: DASH, width: 1 });

const leftSeries = [
  line('FlgM39', flgM39, C.blue, 0, letter('G')),
  line('FlgM37', flgM37, C.green, 0, letter('E')),
  line('FlgM35', flgM35, C.orange, 0, letter('C')),
  line('FlgM34', flgM34, C.magenta, 0, letter('B')),
  line('FlgM33', flgM33, C.red, 0, letter('A')),
  line('FlgM32', flgM32, C.black, 0, { symbol: 'emptyDiamond', size: 9, bw: 1.6, dash: DOT, width: 1 }),
  line('FlgM31', flgM31, C.blue, 0, { symbol: 'diamond', size: 8, dash: DOT, width: 1 }),
  line('FlgM30', flgM30, C.cyan, 0, { symbol: 'emptyCircle', size: 7, bw: 1.5, dash: DOT, width: 1 }),
  line('FlgM29', flgM29, C.green, 0, { symbol: 'circle', size: 6.5, dash: DOT, width: 1 }),
  line('FlgM28', flgM28, C.purple, 0, { symbol: 'emptyRect', size: 7, bw: 1.4, dash: DOT, width: 1 }),
  line('FlgM27', flgM27, C.orange, 0, { symbol: 'rect', size: 6.5, dash: DOT, width: 1 }),
  line('FlgM26', flgM26, C.magenta, 0, { symbol: 'emptyTriangle', rotate: 180, size: 7, bw: 1.4, dash: DOT, width: 1 }),
  line('FlgM25', flgM25, C.red, 0, { symbol: 'triangle', size: 6.5, dash: DOT, width: 1 }),
  line('FlgM24', flgM24, C.black, 0, { dash: DASHDOT, width: 1.5 }),
  line('FlgM23', flgM23, C.blue, 0, { dash: DASHDOT, width: 1.8 }),
  line('FlgM22', flgM22, C.cyan, 0, { dash: DASHDOT, width: 1.5 }),
  line('FlgM21', flgM21, C.green, 0, { dash: DASHDOT, width: 1.5 }),
  line('FlgM15', flgM15, C.blue, 0, { dash: LDASH, width: 1.5 }),
  line('FlgM11', flgM11, C.orange, 0, { dash: LDASH, width: 1.8 }),
  line('FlgM10', flgM10, C.magenta, 0, { dash: LDASH, width: 1.8 }),
  line('FlgM9', flgM9, C.red, 0, { dash: LDASH, width: 1.5 })
];

const rightSeries = [
  line('FlgM38', flgM38, C.cyan, 1, { symbol: GLYPH.F, fill: '#fff', size: 6, dash: DASH, width: 1 }),
  line('FlgM36', flgM36, C.purple, 1, { symbol: GLYPH.D, fill: '#fff', size: 6, width: 1 }),
  line('FlgM20', flgM20, C.purple, 1, { dash: DASHDOT, width: 1.8 }),
  line('FlgM19', flgM19, C.orange, 1, { dash: DASHDOT, width: 1.8 }),
  line('FlgM18', flgM18, C.magenta, 1, { dash: DASHDOT, width: 1.8 }),
  line('FlgM17', flgM17, C.red, 1, { dash: DASHDOT, width: 1.8 }),
  line('FlgM16', flgM16, C.black, 1, { dash: LDASH, width: 1.8 }),
  line('FlgM14', flgM14, C.cyan, 1, { dash: LDASH, width: 1.8 }),
  line('FlgM13', flgM13, C.green, 1, { dash: LDASH, width: 1.8 }),
  line('FlgM12', flgM12, C.purple, 1, { dash: LDASH, width: 1.8 }),
  line('FlgM8', flgM8, C.black, 1, { width: 1.6 }),
  line('FlgM7', flgM7, C.blue, 1, { width: 1.6 }),
  line('FlgM6', flgM6, C.cyan, 1, { width: 1.6 }),
  line('FlgM5', flgM5, C.green, 1, { width: 1.6 }),
  line('FlgM4', flgM4, C.purple, 1, { width: 1.6 }),
  line('FlgM3', flgM3, C.orange, 1, { width: 1.6 }),
  line('FlgM2', flgM2, C.magenta, 1, { width: 1.6 }),
  line('FlgM1', flgM1, C.red, 1, { width: 1.6 })
];

// grey semi-disorder band + its dashed borders, one per panel
function band(panel, lineColor, lineWidth, dash) {
  return {
    name: 'band' + panel, type: 'line', data: [],
    xAxisIndex: panel * 2, yAxisIndex: panel * 2, z: 1, silent: true, animation: false,
    markArea: {
      silent: true, itemStyle: { color: '#d9d9d9' },
      data: [[{ yAxis: semiBand[0] }, { yAxis: semiBand[1] }]]
    },
    markLine: {
      silent: true, symbol: 'none', label: { show: false },
      lineStyle: { color: lineColor, width: lineWidth, type: dash },
      data: semiBand.map(v => ({ yAxis: v }))
    }
  };
}

function xAxis(grid, pos, main) {
  return {
    type: 'value', gridIndex: grid, position: pos, min: 0, max: 130, interval: 10,
    axisLine: { show: true, onZero: false, lineStyle: { color: '#000', width: 1.5 } },
    axisTick: { show: true, inside: true, length: 7, lineStyle: { color: '#000', width: 1 } },
    minorTick: { show: true, splitNumber: 10, length: 4, lineStyle: { color: '#000', width: 0.8 } },
    splitLine: { show: false },
    axisLabel: { show: main, fontFamily: FONT, fontSize: 17, fontWeight: 'bold', color: '#000', margin: 6 },
    name: main ? 'Residue Index (Aligned)' : '', nameLocation: 'middle', nameGap: 21,
    nameTextStyle: { fontFamily: FONT, fontSize: 17, fontWeight: 'bold', color: '#000' }
  };
}
function yAxis(grid, pos, main, named) {
  return {
    type: 'value', gridIndex: grid, position: pos, min: 0, max: 1, interval: 0.2,
    axisLine: { show: true, onZero: false, lineStyle: { color: '#000', width: 1.5 } },
    axisTick: { show: true, inside: true, length: 8, lineStyle: { color: '#000', width: 1 } },
    minorTick: { show: true, splitNumber: 2, length: 8, lineStyle: { color: '#000', width: 0.8 } },
    splitLine: { show: false },
    axisLabel: {
      show: main, fontFamily: FONT, fontSize: 18, fontWeight: 'bold', color: '#000', margin: 7,
      formatter: v => yTickLabels[Math.round(v / 0.2)]
    },
    name: named ? 'Disorder Probability' : '', nameLocation: 'middle', nameGap: 32,
    nameTextStyle: { fontFamily: FONT, fontSize: 18, fontWeight: 'bold', color: '#000' }
  };
}

// legend entries: series without markers show only their (dashed) line
function legend(series, left, top, gap) {
  return {
    data: series.map(s => s.showSymbol ? s.name : { name: s.name, itemStyle: { opacity: 0 } }),
    left, top, orient: 'vertical',
    itemWidth: 30, itemHeight: 8, itemGap: gap, selectedMode: false,
    textStyle: { fontFamily: FONT, fontSize: 8, fontWeight: 'bold', color: '#000' },
    backgroundColor: '#fff', borderColor: '#444', borderWidth: 1, borderRadius: 0,
    padding: [5, 8, 5, 5], z: 10
  };
}

function txt(text, x, y, size) {
  return {
    type: 'text', x, y, z: 100, silent: true,
    style: {
      text, font: 'bold ' + size + 'px ' + FONT, fill: '#000',
      textAlign: 'center', textVerticalAlign: 'middle'
    }
  };
}

const chart = echarts.init(document.getElementById('chart'), null, { renderer: 'canvas' });
chart.setOption({
  backgroundColor: '#fff',
  animation: false,
  grid: [
    { left: 63, right: 564, top: 17, bottom: 41 },
    { left: 614, right: 20, top: 20, bottom: 43 }
  ],
  xAxis: [xAxis(0, 'bottom', true), xAxis(0, 'top', false), xAxis(1, 'bottom', true), xAxis(1, 'top', false)],
  yAxis: [yAxis(0, 'left', true, true), yAxis(0, 'right', false, false), yAxis(1, 'left', true, false), yAxis(1, 'right', false, false)],
  legend: [
    legend(leftSeries, 75, 183, 4.2),
    legend(rightSeries, 639, 238, 3.9)
  ],
  graphic: [
    txt('A', 20, 18, 24), txt('B', 585, 18, 24),
    txt('Full-disorder', 185, 62, 17), txt('Semi-disorder', 220, 246, 17), txt('Structured', 340, 355, 17),
    txt('Full-disorder', 714, 35, 17), txt('Semi-disorder', 799, 263, 17), txt('Structured', 868, 355, 17)
  ],
  series: [band(0, '#555', 1, [5, 3]), band(1, '#000', 2.2, [12, 6])].concat(leftSeries, rightSeries)
});
</script>
</body>
</html>
